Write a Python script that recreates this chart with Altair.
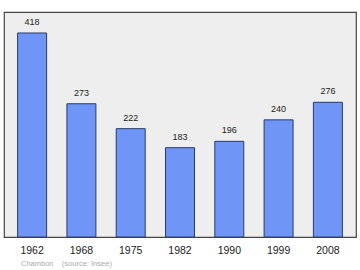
import altair as alt
import pandas as pd

years = ["1962", "1968", "1975", "1982", "1990", "1999", "2008"]
population = [418, 273, 222, 183, 196, 240, 276]

df = pd.DataFrame({"year": years, "pop": population})

x = alt.X("year:N", sort=years, title=None,
          scale=alt.Scale(paddingInner=0.412, paddingOuter=0.276),
          axis=alt.Axis(labelAngle=0, domain=False, ticks=False, labelPadding=8,
                        labelFontSize=10.5, labelColor="#222", labelFont="Liberation Sans"))
y = alt.Y("pop:Q", title=None, scale=alt.Scale(domain=[0, 461], nice=False),
          axis=None)

bars = alt.Chart(df).mark_bar(color="#6f96f7", stroke="#2a3a6a", strokeWidth=1).encode(x=x, y=y)
labels = alt.Chart(df).mark_text(dy=-11, fontSize=9, color="#222", font="Liberation Sans").encode(
    x=x, y=y, text="pop:Q")

chart = (bars + labels).properties(
    width=352, height=225,
    title=alt.TitleParams(text="Chambon\u00a0\u00a0\u00a0\u00a0(source: Insee)", orient="bottom", anchor="start",
                          fontSize=7.5, color="#aaaaaa", fontWeight="normal",
                          font="Liberation Sans", offset=4, dx=17),
    padding={"left": 4, "top": 12, "right": 4, "bottom": 33},
    autosize=alt.AutoSizeParams(type="none"),
    background="white",
).configure_view(fill="#eeeeee", stroke="#444444", strokeWidth=1.2)

chart.save("out.html", embed_options={"renderer": "svg", "actions": False})
